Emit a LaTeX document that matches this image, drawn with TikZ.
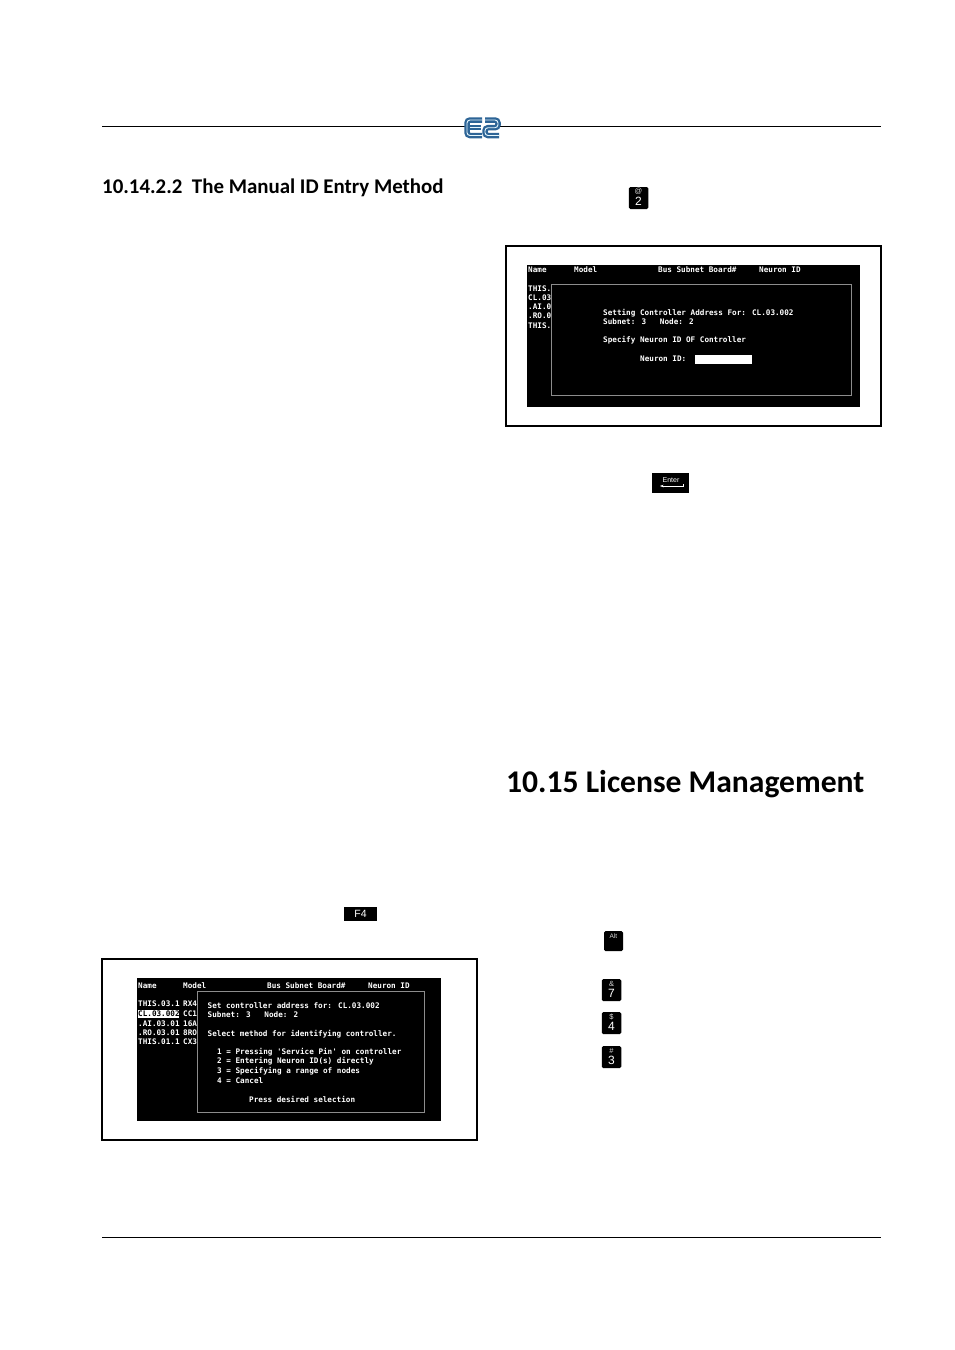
\documentclass[tikz,border=0pt]{standalone}
\usepackage{fontspec}
\usetikzlibrary{arrows.meta}
\setmainfont{Carlito}
\newfontfamily\screenfont{DejaVu Sans Mono}
\newfontfamily\keyfont{Liberation Sans}
\definecolor{logoblue}{RGB}{45,100,150}
\tikzset{
  screen/.style={fill=black, draw=none, inner sep=0pt},
  framebox/.style={draw=black, line width=2pt, inner sep=0pt},
  popup/.style={draw=black!45, line width=0.7pt, fill=black, inner sep=0pt},
  scrtext/.style={text=white, anchor=west, inner sep=0pt, font=\screenfont\bfseries\fontsize{7.65}{9}\selectfont},
  keycap/.style={fill=black, rounded corners=1.5pt, inner sep=0pt},
  keysmall/.style={text=black!15, inner sep=0pt, font=\keyfont\fontsize{7.5}{8}\selectfont},
  keybig/.style={text=white, inner sep=0pt, font=\keyfont\fontsize{12}{13}\selectfont},
  rule/.style={line width=0.8pt},
  logoline/.style={draw=logoblue, double=cyan!10, line width=2.3pt, double distance=0.9pt, rounded corners=3pt}
}
\begin{document}
\begin{tikzpicture}[x=1pt, y=-1pt]
  \useasboundingbox (0,0) rectangle (954,1350);
  \fill[white] (0,0) rectangle (954,1350);

  % Header and footer rules
  \coordinate (toprulel) at (102,126.5);
  \coordinate (topruler) at (881,126.5);
  \coordinate (botrulel) at (102,1237.5);
  \coordinate (botruler) at (881,1237.5);
  \draw[rule] (toprulel) -- (topruler);
  \draw[rule] (botrulel) -- (botruler);

  % E2 logo
  \fill[white] (465,117) rectangle (500,138);
  \draw[logoline] (482,120) -- (467,120) -- (467,135.5) -- (482,135.5);
  \draw[logoline] (470,127.7) -- (481,127.7);
  \draw[logoline] (485,120) -- (498,120) -- (498,127.7) -- (485,127.7) -- (485,135.5) -- (499,135.5);

  % Headings
  \node[anchor=base west, inner sep=0pt, font=\bfseries\fontsize{20.9}{24}\selectfont] (subhead) at (102,193) {10.14.2.2\ \ The Manual ID Entry Method};
  \node[anchor=base west, inner sep=0pt, font=\bfseries\fontsize{31.6}{36}\selectfont] (mainhead) at (506,792) {10.15 License Management};

  % Left screen
  \node[framebox, minimum width=375pt, minimum height=180.2pt] (frameA) at (289.5,1049.4) {};
  \node[screen, minimum width=304pt, minimum height=143.3pt] (screenA) at (289.3,1049.3) {};
  \begin{scope}
    \clip (138,978) rectangle (441,1121);
    \node[scrtext] (nodeA) at (316,974) {Node};
  \end{scope}
  \node[scrtext] (nameA) at (138,985.5) {Name};
  \node[scrtext] (modelA) at (183,985.5) {Model};
  \node[scrtext] (busA) at (267,985.5) {Bus Subnet Board\#};
  \node[scrtext] (neuronA) at (368,985.5) {Neuron ID};
  \fill[white] (137.7,1010) rectangle (179,1018.3);
  \foreach \i/\y/\txt/\mdl in {1/1004/THIS.03.1/RX4, 2/1014/CL.03.002/CC1, 3/1023.5/.AI.03.01/16A, 4/1032.5/.RO.03.01/8RO, 5/1042/THIS.01.1/CX3} {
    \ifnum\i=2
      \node[scrtext, text=black] (rowA\i) at (138,\y) {\txt};
    \else
      \node[scrtext] (rowA\i) at (138,\y) {\txt};
    \fi
    \node[scrtext] (typeA\i) at (183,\y) {\mdl};
  }
  \node[popup, minimum width=227.3pt, minimum height=121.4pt] (popupA) at (311,1052) {};
  \node[scrtext] (setA) at (207.5,1005.5) {Set controller address for: CL.03.002};
  \node[scrtext] (subA) at (207.5,1015) {Subnet: 3~~~Node: 2};
  \node[scrtext] (selA) at (207.5,1034) {Select method for identifying controller.};
  \foreach \i/\y/\txt in {1/1052.5/1 = Pressing 'Service Pin' on controller, 2/1061.5/2 = Entering Neuron ID(s) directly, 3/1071/3 = Specifying a range of nodes, 4/1080.5/4 = Cancel} {
    \node[scrtext] (optA\i) at (217,\y) {\txt};
  }
  \node[scrtext] (pressA) at (249,1099) {Press desired selection};

  % Right screen
  \node[framebox, minimum width=375pt, minimum height=179.7pt] (frameB) at (693.5,335.9) {};
  \node[screen, minimum width=332.7pt, minimum height=142pt] (screenB) at (693.7,336) {};
  \node[scrtext] (nameB) at (528,269.5) {Name};
  \node[scrtext] (modelB) at (574,269.5) {Model};
  \node[scrtext] (busB) at (658,269.5) {Bus Subnet Board\#};
  \node[scrtext] (neuronB) at (759,269.5) {Neuron ID};
  \foreach \i/\y/\txt in {1/288.5/THIS., 2/297.5/CL.03, 3/306.5/.AI.0, 4/316/.RO.0, 5/325.5/THIS.} {
    \node[scrtext] (rowB\i) at (528,\y) {\txt};
  }
  \node[popup, minimum width=300pt, minimum height=111.4pt] (popupB) at (701.7,340) {};
  \node[scrtext] (setB) at (603,313) {Setting Controller Address For: CL.03.002};
  \node[scrtext] (subB) at (603,322) {Subnet: 3~~~Node: 2};
  \node[scrtext] (specB) at (603,340.5) {Specify Neuron ID OF Controller};
  \node[scrtext] (idB) at (640,359) {Neuron ID:};
  \node[fill=white, inner sep=0pt, minimum width=56.7pt, minimum height=9pt] (fieldB) at (723.3,359) {};

  % Keys with two legends
  \foreach \name/\x/\y/\sym/\dig in {two/638.5/198/@/2, seven/611.5/990/\&/7, four/611.5/1023/\$/4, three/611.5/1057/\#/3} {
    \node[keycap, minimum width=19.5pt, minimum height=22pt] (key\name) at (\x,\y) {};
    \node[keysmall] (sym\name) at (\x,\y-6.5) {\sym};
    \node[keybig] (dig\name) at (\x,\y+3.5) {\dig};
  }

  % Other keys
  \node[keycap, rounded corners=0pt, minimum width=33pt, minimum height=14pt] (keyfour) at (360.5,914) {};
  \node[keybig, font=\keyfont\fontsize{10.5}{12}\selectfont] (labelfour) at (360.5,914) {F4};
  \node[keycap, minimum width=19pt, minimum height=20pt] (keyalt) at (613.5,941) {};
  \node[keysmall, font=\keyfont\fontsize{6.5}{7}\selectfont] (labelalt) at (613.5,936) {Alt};
  \node[keycap, rounded corners=0pt, minimum width=37pt, minimum height=20pt] (keyenter) at (670.5,483) {};
  \node[keysmall, text=white, font=\keyfont\fontsize{7}{8}\selectfont] (labelenter) at (671,480.5) {Enter};
  \coordinate (enterup) at (683,484);
  \coordinate (entercorner) at (683,486);
  \coordinate (enterend) at (660,486);
  \draw[white, line width=0.4pt, -{Stealth[length=3.5pt,width=2.5pt]}] (enterup) -- (entercorner) -- (enterend);
\end{tikzpicture}
\end{document}
